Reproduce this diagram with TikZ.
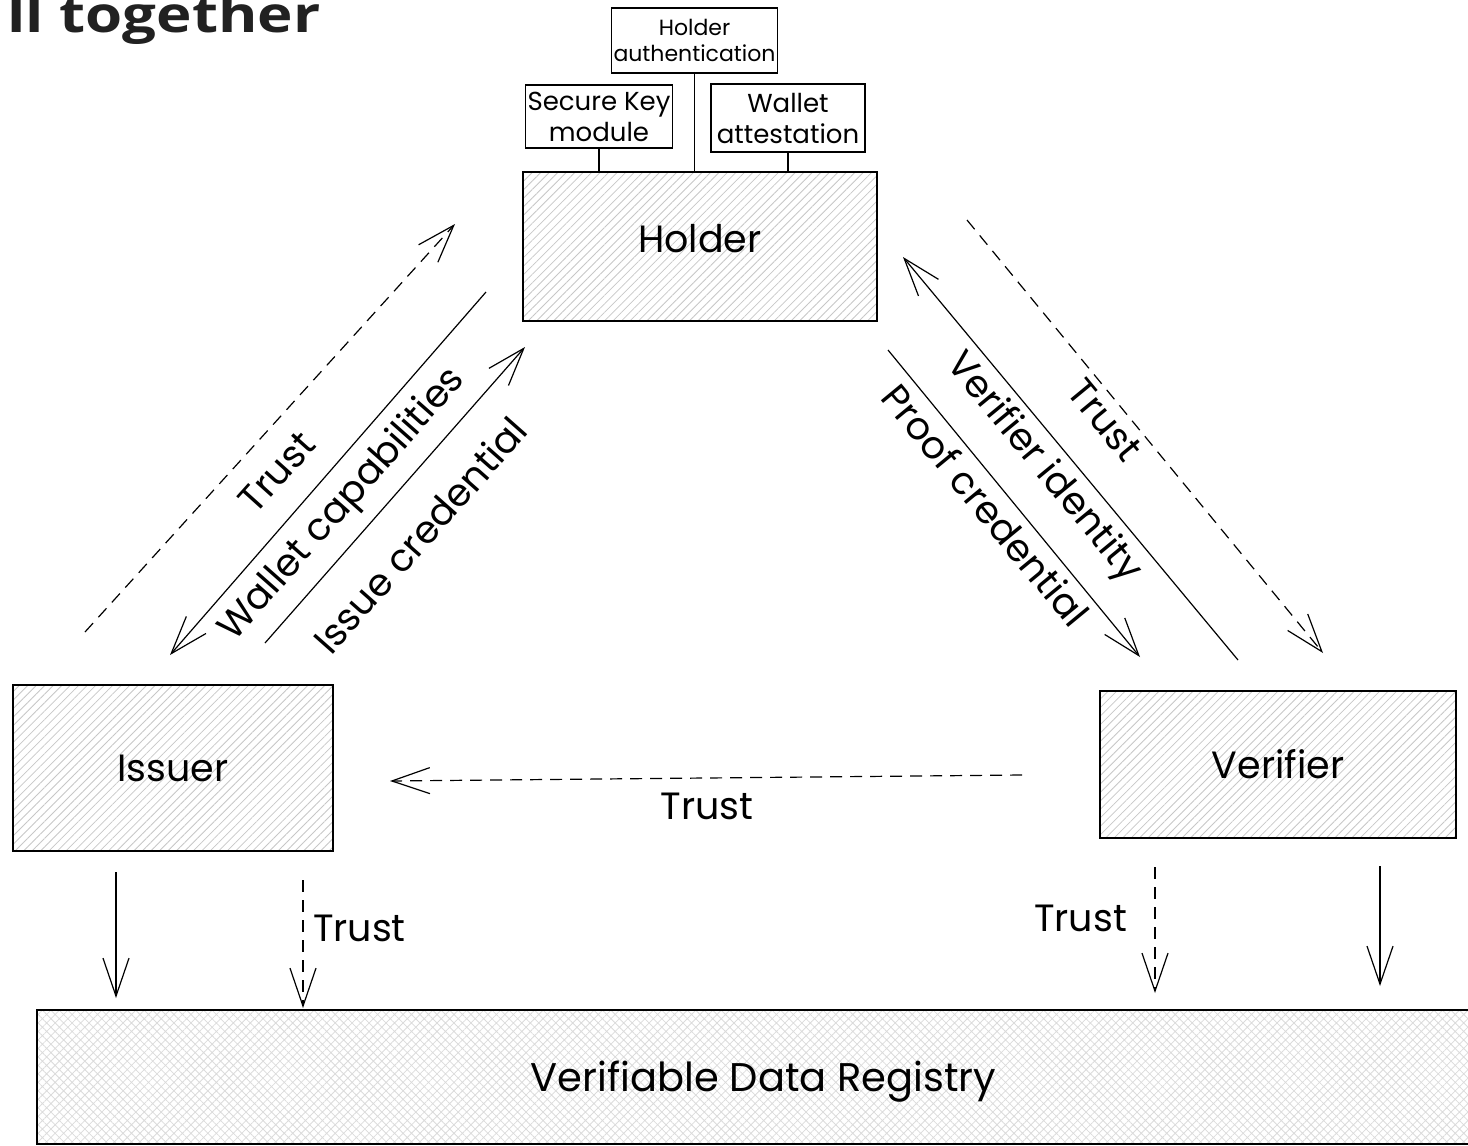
\documentclass[tikz,border=0pt]{standalone}
\usepackage{fontspec}
\setmainfont{Poppins}
\newfontfamily\headfont{Open Sans}
\usepackage{tikz}
\usetikzlibrary{arrows.meta}
\usetikzlibrary{patterns.meta}
\usetikzlibrary{positioning}

\begin{document}
\begin{tikzpicture}[x=0.5pt, y=-0.5pt, font=\fontsize{19}{22}\selectfont,
    >={Straight Barb[length=19pt,width=13pt]},
    box/.style={draw, line width=0.9pt, pattern={Lines[angle=45,distance=3pt,line width=.4pt]}, pattern color=black!22},
    small/.style={draw, line width=0.9pt, fill=white, align=center, inner sep=1pt, font=\fontsize{13}{15.5}\selectfont},
    flow/.style={->, line width=0.6pt},
    trust/.style={->, line width=0.6pt, dash pattern=on 6pt off 4pt}]
            \clip (0,0) rectangle (1468,1146);
            \node[anchor=base west, inner sep=0, xscale=1.2, text=black!87,
                  font=\headfont\bfseries\fontsize{25}{25}\selectfont] (T) at (7,32) {ll together};

            \node[box, minimum width=177pt, minimum height=74.5pt, text depth=8pt] (H) at (700,246.5) {Holder};
            \node[box, minimum width=160pt, minimum height=83pt] (I) at (173,768) {Issuer};
            \node[box, minimum width=178pt, minimum height=73.5pt] (V) at (1278,764.5) {Verifier};
            \node[draw, line width=0.9pt, pattern={Hatch[angle=45,distance=3pt,line width=.4pt]}, pattern color=black!14,
                  minimum width=726.5pt, minimum height=67pt, text height=20pt, font=\fontsize{20}{22}\selectfont] (R) at (763.5,1077) {Verifiable Data Registry};

            \node[small, minimum width=72pt, minimum height=31.5pt] (K) at (599,116.5) {Secure Key\\module};
            \node[small, minimum width=80.5pt, minimum height=32.5pt, font=\fontsize{11}{13}\selectfont] (A) at (694.5,40.5) {Holder\\authentication};
            \node[small, minimum width=77pt, minimum height=34pt] (W) at (788,118) {Wallet\\attestation};
            \foreach\n in {K,A,W}{
              \draw[line width=0.9pt] (\n.south) -- (\n.south |- H.north);
            }

            \coordinate (t1) at (85,632);   \coordinate (t2) at (455,224);
            \coordinate (w1) at (486,292);  \coordinate (w2) at (170,655);
            \coordinate (c1) at (265,643);  \coordinate (c2) at (525,347);
            \coordinate (t3) at (967,220);  \coordinate (t4) at (1323,653);
            \coordinate (v1) at (1238,660); \coordinate (v2) at (903,257);
            \coordinate (p1) at (888,350);  \coordinate (p2) at (1140,657);
            \coordinate (t5) at (1022,775); \coordinate (t6) at (390,781);
            \coordinate (i1) at (116,872);  \coordinate (i2) at (116,998);
            \coordinate (i3) at (303,880);  \coordinate (i4) at (303,1008);
            \coordinate (v3) at (1155,867); \coordinate (v4) at (1155,993);
            \coordinate (v5) at (1380,866); \coordinate (v6) at (1380,986);

            \draw[trust] (t1) -- (t2);
            \draw[flow] (w1) -- (w2);
            \draw[flow] (c1) -- (c2);
            \draw[trust] (t3) -- (t4);
            \draw[flow] (v1) -- (v2);
            \draw[flow] (p1) -- (p2);
            \draw[trust] (t5) -- (t6);
            \draw[flow] (i1) -- (i2);
            \draw[trust] (i3) -- (i4);
            \draw[trust] (v3) -- (v4);
            \draw[flow] (v5) -- (v6);

            \node[rotate=48] (lt1) at (277,472) {Trust};
            \node[rotate=48.5] (lw) at (343,505) {Wallet capabilities};
            \node[rotate=48.5] (lc) at (420,535) {Issue credential};
            \node[rotate=-50.5] (lt2) at (1105,420) {Trust};
            \node[rotate=-50.5] (lv) at (1043,468) {Verifier identity};
            \node[rotate=-50.5] (lp) at (986,505) {Proof credential};
            \node (lt3) at (707,806) {Trust};
            \node[anchor=west] (lt4) at (306,928) {Trust};
            \node[anchor=east] (lt5) at (1134,918) {Trust};
          \end{tikzpicture}
\end{document}
